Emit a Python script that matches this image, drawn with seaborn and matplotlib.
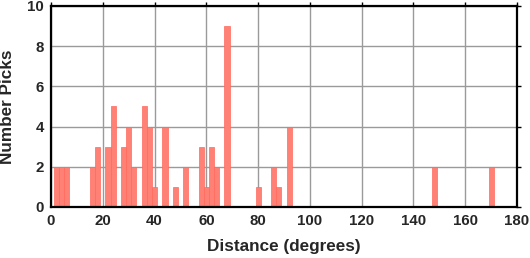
import numpy as np
import pandas as pd
import matplotlib
matplotlib.use("Agg")
import matplotlib.pyplot as plt
import seaborn as sns

# Histogram bin centers (degrees) and counts
centers = [2, 4, 6, 16, 18, 22, 24, 28, 30, 32, 36, 38, 40, 44, 48, 52,
           58, 60, 62, 64, 68, 80, 86, 88, 92, 148, 170]
counts = [2, 2, 2, 2, 3, 3, 5, 3, 4, 2, 5, 4, 1, 4, 1, 2,
          3, 1, 3, 2, 9, 1, 2, 1, 4, 2, 2]
x_ticks = [0, 20, 40, 60, 80, 100, 120, 140, 160, 180]
y_ticks = [0, 2, 4, 6, 8, 10]

df = pd.DataFrame({'distance': centers, 'picks': counts})

sns.set_style("whitegrid")
plt.rcParams['font.family'] = ['Liberation Sans', 'DejaVu Sans']

fig = plt.figure(figsize=(5.3, 2.58), dpi=100)
ax = fig.add_axes([51/530, 1 - 207/258, (517-51)/530, (207-6)/258])

sns.histplot(data=df, x='distance', weights='picks', binwidth=2, binrange=(1, 179),
             ax=ax, color='#ff8074', alpha=1.0, edgecolor='#ff6a5c', linewidth=0.5)

ax.set_xlim(0, 180)
ax.set_ylim(0, 10)
ax.set_xticks(x_ticks)
ax.set_yticks(y_ticks)
ax.grid(True, color='#9a9a9a', linewidth=1.0)
for s in ax.spines.values():
    s.set_color('black')
    s.set_linewidth(1.6)
    s.set_zorder(5)
ax.tick_params(axis='both', direction='out', length=3, width=1,
               color='black', labelsize=10.8, top=True, right=True,
               labeltop=False, labelright=False, pad=2)
for lab in ax.get_xticklabels() + ax.get_yticklabels():
    lab.set_fontweight('bold')
ax.set_xlabel('Distance (degrees)', fontsize=12.3, fontweight='bold', labelpad=8)
ax.set_ylabel('Number Picks', fontsize=12.3, fontweight='bold', labelpad=9)

fig.savefig('out.png', dpi=100)
